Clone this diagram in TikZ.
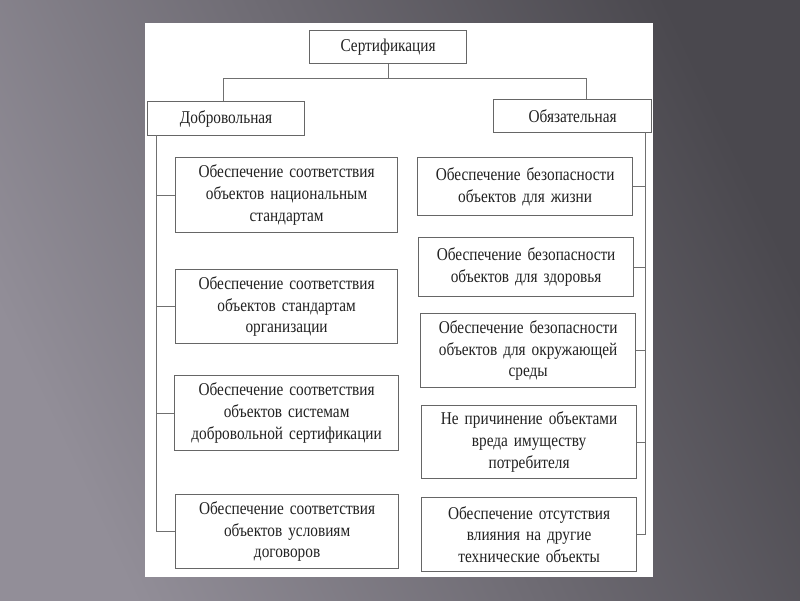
\documentclass[tikz,border=0pt]{standalone}
\usepackage{fontspec}
\setmainfont{Liberation Serif}[FakeStretch=0.85, WordSpace=0.75]
\definecolor{bgA}{HTML}{928E98}
\definecolor{bgB}{HTML}{4A484E}
\definecolor{boxline}{HTML}{666666}
\definecolor{connline}{HTML}{707070}
\definecolor{txt}{HTML}{222222}
\begin{document}
\begin{tikzpicture}[x=1pt,y=-1pt,
  box/.style={draw=boxline, line width=1.2pt, fill=white, align=center,
    inner sep=0pt, anchor=north west, text=txt,
    font=\fontsize{18}{21.7}\selectfont},
  conn/.style={draw=connline, line width=0.9pt}]
\useasboundingbox (0,0) rectangle (800,600);
\shade[left color=bgA, right color=bgB, shading angle=115] (0,0) rectangle (800,600);
\fill[white] (145,23) rectangle (653,577);

\node[box, minimum width=157pt, minimum height=33pt] (cert) at (309,30) {Сертификация};
\node[box, minimum width=157pt, minimum height=34pt] (dobr) at (147,101) {Добровольная};
\node[box, minimum width=158pt, minimum height=33pt] (obyaz) at (493,99) {Обязательная};

\node[box, minimum width=222pt, minimum height=75pt, text width=218pt] (L1) at (175,157)
  {Обеспечение соответствия\\объектов национальным\\стандартам};
\node[box, minimum width=222pt, minimum height=74pt, text width=218pt] (L2) at (175,269)
  {Обеспечение соответствия\\объектов стандартам\\организации};
\node[box, minimum width=224pt, minimum height=75pt, text width=220pt] (L3) at (174,375)
  {Обеспечение соответствия\\объектов системам\\добровольной сертификации};
\node[box, minimum width=223pt, minimum height=74pt, text width=219pt] (L4) at (175,494)
  {Обеспечение соответствия\\объектов условиям\\договоров};

\node[box, minimum width=215pt, minimum height=58pt, text width=211pt] (R1) at (417,157)
  {Обеспечение безопасности\\объектов для жизни};
\node[box, minimum width=215pt, minimum height=59pt, text width=211pt] (R2) at (418,237)
  {Обеспечение безопасности\\объектов для здоровья};
\node[box, minimum width=215pt, minimum height=74pt, text width=211pt] (R3) at (420,313)
  {Обеспечение безопасности\\объектов для окружающей\\среды};
\node[box, minimum width=215pt, minimum height=73pt, text width=211pt] (R4) at (421,405)
  {Не причинение объектами\\вреда имуществу\\потребителя};
\node[box, minimum width=215pt, minimum height=74pt, text width=211pt] (R5) at (421,497)
  {Обеспечение отсутствия\\влияния на другие\\технические объекты};

\coordinate (hL) at (223,78);
\coordinate (hR) at (586,78);
\draw[conn] (cert.south) -- (cert.south |- hL);
\draw[conn] (hL) -- (hR);
\draw[conn] (hL) -- (hL |- dobr.north);
\draw[conn] (hR) -- (hR |- obyaz.north);

\coordinate (tL) at (156,135);
\draw[conn] (tL) -- (tL |- L4.west) -- (L4.west);
\foreach \n in {L1,L2,L3} \draw[conn] (tL |- \n.west) -- (\n.west);

\coordinate (tR) at (645,132);
\draw[conn] (tR) -- (tR |- R5.east) -- (R5.east);
\foreach \n in {R1,R2,R3,R4} \draw[conn] (tR |- \n.east) -- (\n.east);
\end{tikzpicture}
\end{document}
